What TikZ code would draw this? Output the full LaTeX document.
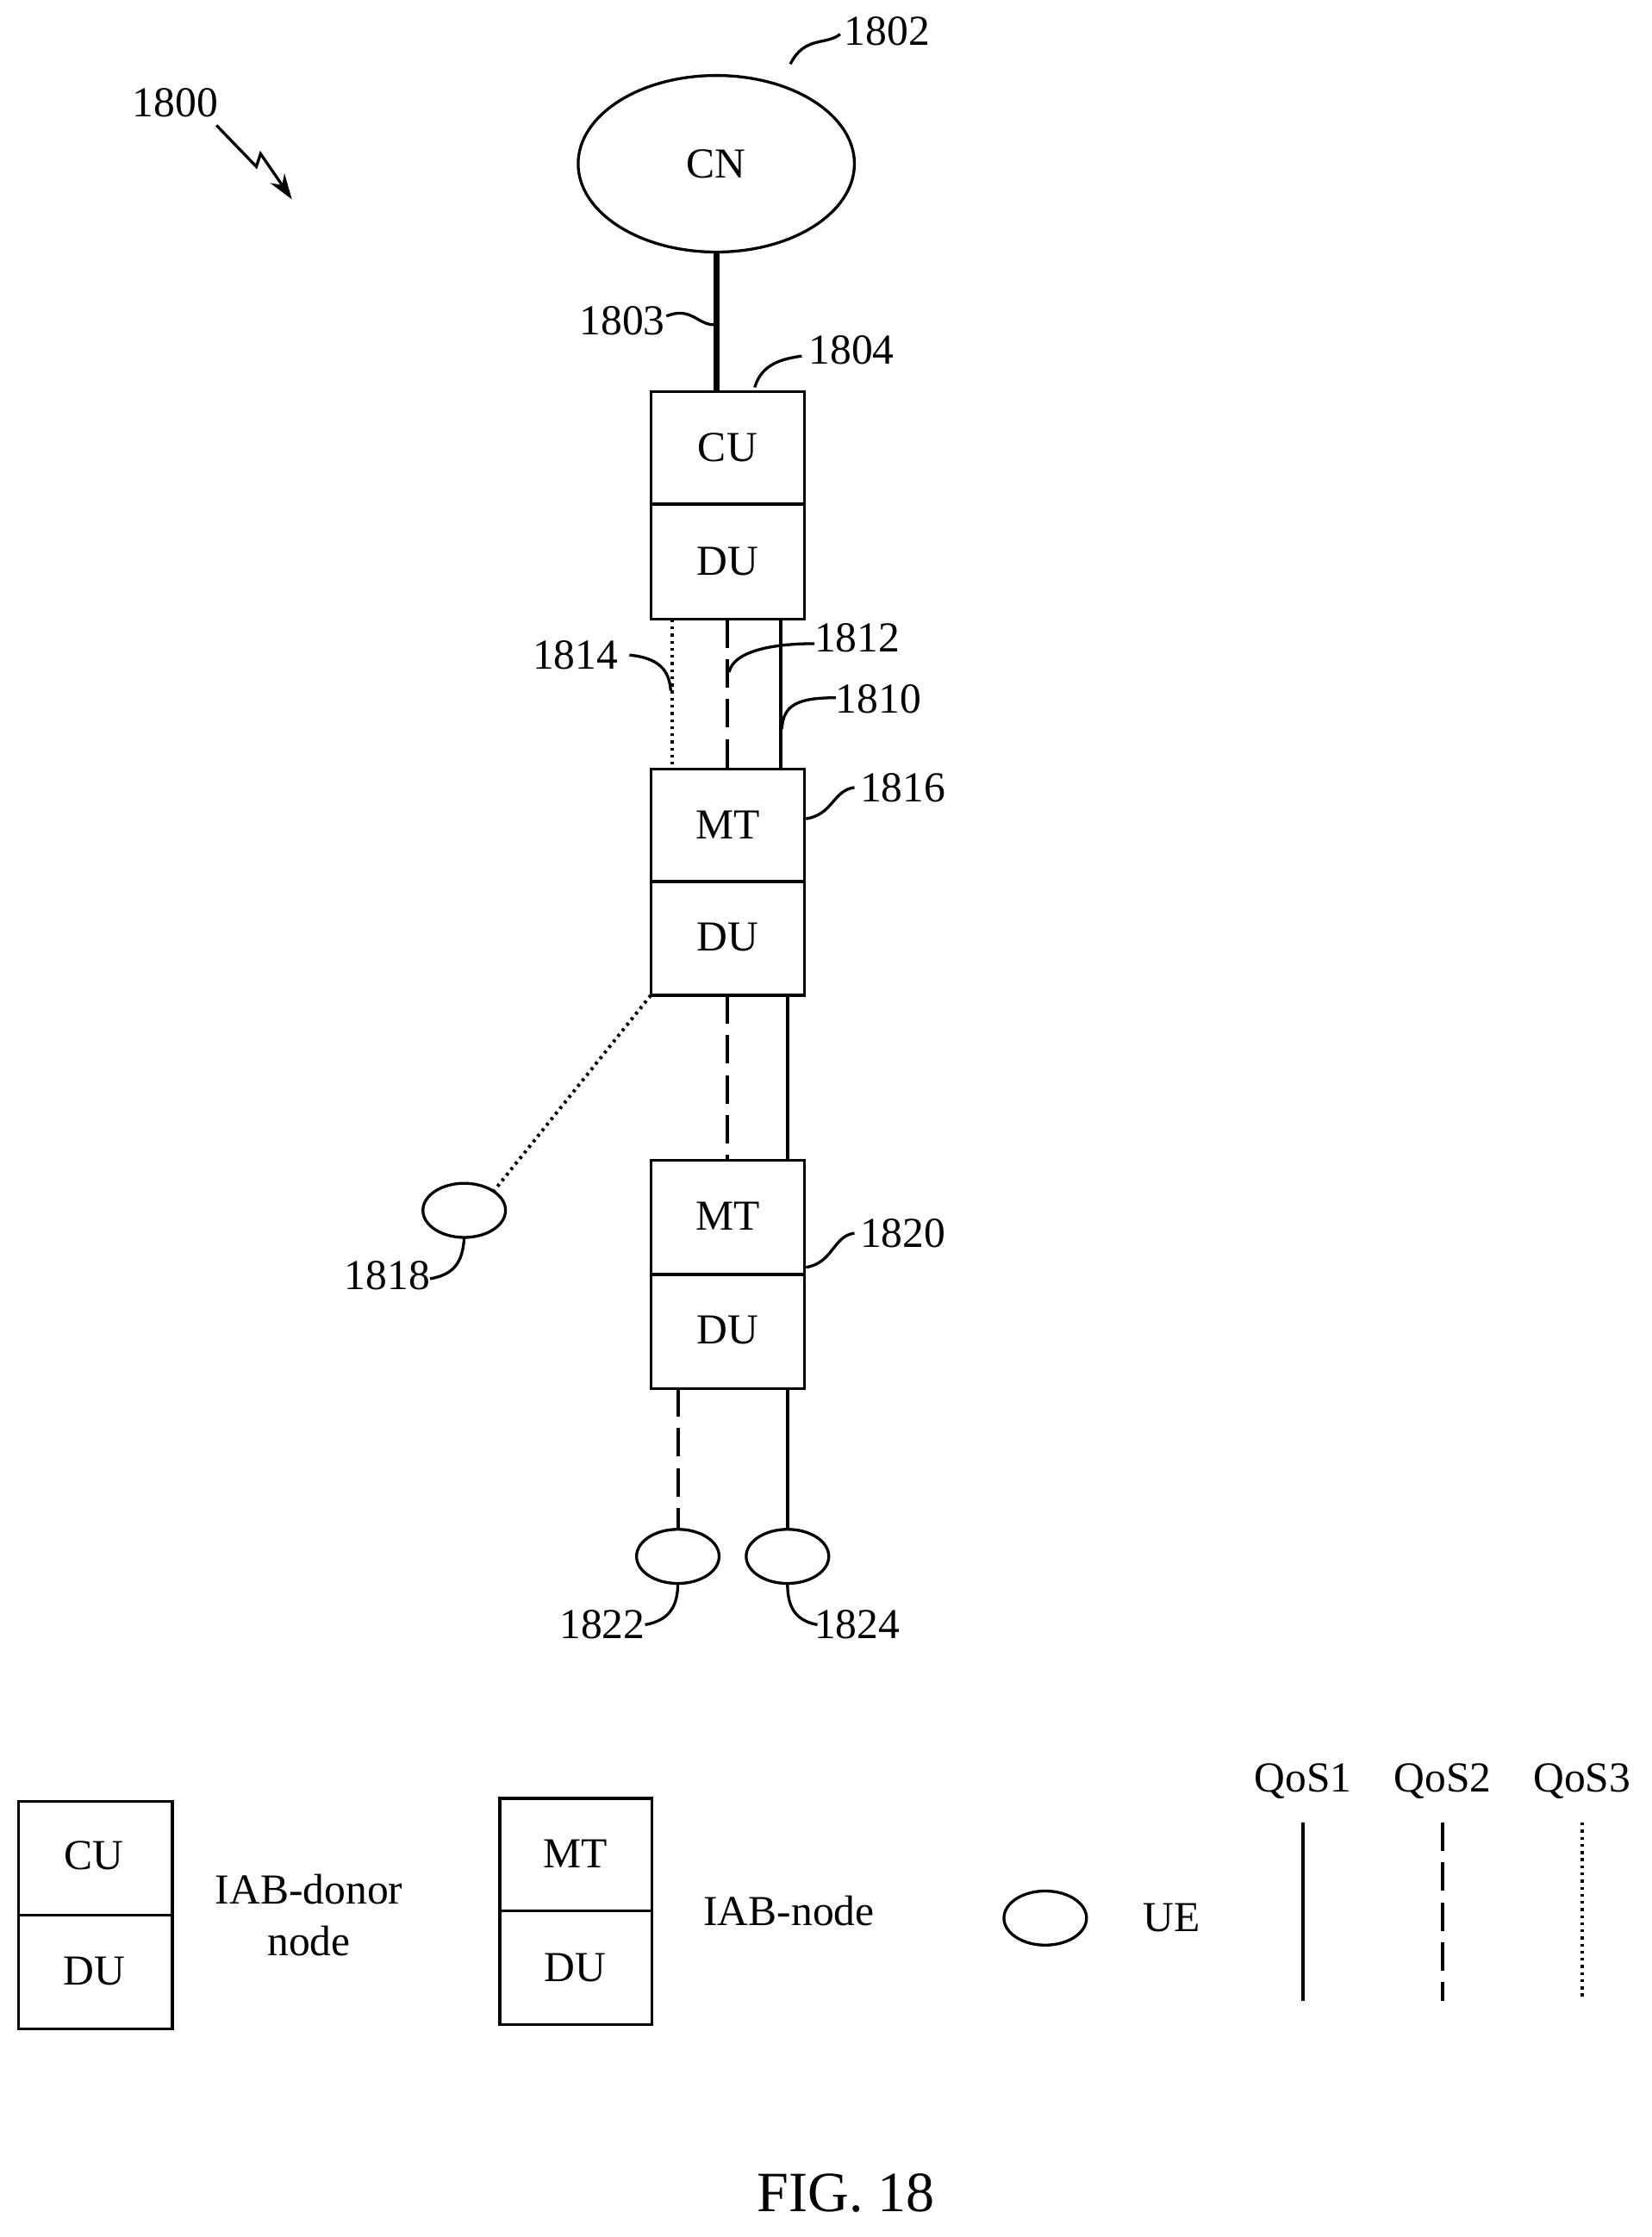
\documentclass[tikz,border=0pt]{standalone}
\usepackage{fontspec}
\setmainfont{Liberation Serif}
\usetikzlibrary{arrows.meta,shapes.geometric}
\begin{document}
\begin{tikzpicture}[x=0.5pt,y=-0.5pt,
  every node/.style={font=\fontsize{15}{18}\selectfont},
  ln/.style={line width=1pt},
  sol/.style={line width=1.2pt},
  dsh/.style={line width=1.2pt,dash pattern=on 10pt off 4pt},
  dot/.style={line width=1.2pt,dash pattern=on 1pt off 1.5pt},
  ue/.style={draw,line width=1pt,ellipse,minimum width=29pt,minimum height=19pt,inner sep=0pt}]
\useasboundingbox (0,0) rectangle (1160,1571);
% CN
\node[draw,ellipse,line width=1pt,minimum width=97pt,minimum height=62pt] (cn) at (503,115) {CN};
\node (l1802) at (623,22) {1802};
\draw[ln] (555,45) .. controls (565,25) and (580,32) .. (590,24);
\node (l1800) at (123,72) {1800};
\coordinate (z0) at (152,88);
\coordinate (z3) at (205,140);
\draw[ln,-{Stealth[length=9pt,width=6pt]}] (z0) -- (180,117) -- (183,108) -- (z3);
% donor
\draw[ln] (457,275) rectangle (565,435); \draw[ln] (457,354) -- (565,354);
\node (cu) at (511,314) {CU}; \node (du0) at (511,394) {DU};
\coordinate (cntop) at (503,177); \coordinate (dtop) at (503,275);
\draw[line width=2.2pt] (cntop) -- (dtop);
\node (l1803) at (437,225) {1803};
\draw[ln] (468,222) .. controls (485,215) and (490,228) .. (501,228);
\node (l1804) at (598,246) {1804};
\draw[ln] (530,272) .. controls (535,255) and (550,252) .. (563,250);
% lines to 1816
\draw[dot] (472,435) -- (472,540);
\draw[dsh] (511,435) -- (511,540);
\draw[sol] (548,435) -- (548,540);
\node (l1814) at (404,460) {1814};
\draw[ln] (442,460) .. controls (462,462) and (470,470) .. (471,485);
\node (l1812) at (602,448) {1812};
\draw[ln] (572,452) .. controls (540,452) and (515,458) .. (512,472);
\node (l1810) at (617,491) {1810};
\draw[ln] (587,490) .. controls (560,490) and (550,495) .. (549,512);
% 1816
\draw[ln] (457,540) rectangle (565,699); \draw[ln] (457,619) -- (565,619);
\node (mt1) at (511,579) {MT}; \node (du1) at (511,658) {DU};
\node (l1816) at (634,553) {1816};
\draw[ln] (566,575) .. controls (585,572) and (585,555) .. (600,553);
% UE 1818
\node[ue] (ue18) at (326,850) {};
\draw[dot] (457,699) -- (ue18.north east);
\draw[dsh] (511,699) -- (511,815);
\draw[sol] (553,699) -- (553,815);
\node (l1818) at (272,896) {1818};
\draw[ln] (302,898) .. controls (320,895) and (325,885) .. (326,869);
% 1820
\draw[ln] (457,815) rectangle (565,975); \draw[ln] (457,895) -- (565,895);
\node (mt2) at (511,854) {MT}; \node (du2) at (511,934) {DU};
\node (l1820) at (634,866) {1820};
\draw[ln] (566,890) .. controls (585,887) and (585,868) .. (600,866);
% UEs
\node[ue] (ue22) at (476,1093) {};
\node[ue] (ue24) at (553,1093) {};
\draw[dsh] (476,975) -- (ue22.north);
\draw[sol] (553,975) -- (ue24.north);
\node (l1822) at (423,1141) {1822};
\draw[ln] (453,1141) .. controls (470,1138) and (476,1128) .. (476,1112);
\node (l1824) at (602,1141) {1824};
\draw[ln] (574,1141) .. controls (558,1138) and (553,1128) .. (553,1112);
% legend
\draw[ln] (13,1265) rectangle (121,1425); \draw[ln] (13,1345) -- (121,1345);
\node (lcu) at (66,1303) {CU}; \node (ldu) at (66,1384) {DU};
\node[align=center] (ldon) at (217,1345) {IAB-donor\\node};
\draw[ln] (351,1263) rectangle (458,1422); \draw[ln] (351,1342) -- (458,1342);
\node (lmt) at (404,1302) {MT}; \node (ldu2) at (404,1382) {DU};
\node (liab) at (554,1342) {IAB-node};
\node[ue] (lue) at (734,1347) {};
\node (luet) at (823,1347) {UE};
\node (q1) at (915,1251) {QoS1};
\node (q2) at (1013,1251) {QoS2};
\node (q3) at (1111,1251) {QoS3};
\draw[line width=1.5pt] (915,1280) -- (915,1405);
\draw[dsh] (1013,1280) -- (1013,1405);
\draw[dot] (1111,1280) -- (1111,1405);
\node[font=\fontsize{20}{24}\selectfont] (fig) at (594,1540) {FIG. 18};
\end{tikzpicture}
\end{document}
